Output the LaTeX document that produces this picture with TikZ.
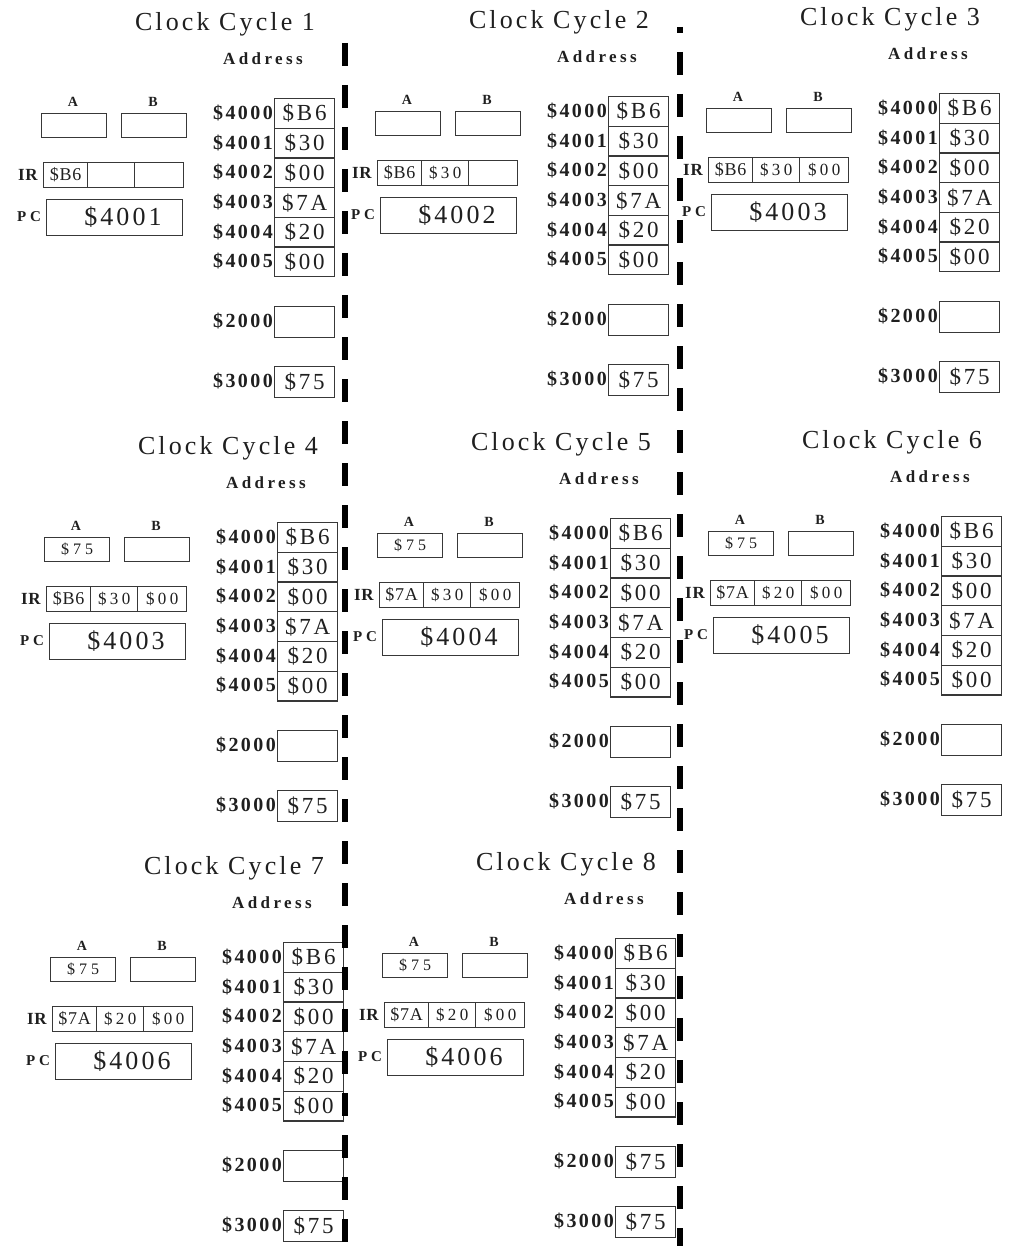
\documentclass[tikz,border=0pt]{standalone}
\usepackage{fontspec}
\setmainfont{Liberation Serif}
\newfontfamily\lsA[LetterSpace=12]{Liberation Serif}
\newfontfamily\lsB[LetterSpace=20]{Liberation Serif}
\newfontfamily\lsC[LetterSpace=25]{Liberation Serif}
\newfontfamily\lsD[LetterSpace=4]{Liberation Serif}
\definecolor{ink}{gray}{0.12}
\definecolor{rule}{gray}{0.22}
\tikzset{
  every node/.style={inner sep=0pt, text=ink},
  box/.style={draw=rule, line width=1.3pt, anchor=north west, inner sep=0pt},
  titletext/.style={font=\lsA\fontsize{26}{28}\selectfont},
  addrhead/.style={font=\lsB\bfseries\fontsize{17}{19}\selectfont},
  addrlabel/.style={anchor=east, font=\lsA\bfseries\fontsize{20}{22}\selectfont},
  memcell/.style={box, minimum width=60pt, minimum height=29.7pt, font=\lsA\fontsize{23}{25}\selectfont},
  reglabel/.style={font=\bfseries\fontsize{14}{16}\selectfont},
  regbox/.style={box, minimum width=65pt, minimum height=24pt, font=\lsC\fontsize{16}{18}\selectfont},
  irlabel/.style={font=\lsD\bfseries\fontsize{17}{19}\selectfont},
  pclabel/.style={font=\lsC\bfseries\fontsize{15}{17}\selectfont},
  ircell/.style={box, minimum height=25pt, font=\lsB\fontsize{17}{19}\selectfont},
  irfirst/.style={ircell, font=\lsD\fontsize{18}{20}\selectfont},
  pcbox/.style={box, minimum width=136pt, minimum height=36pt},
  pcval/.style={font=\lsA\fontsize{26}{28}\selectfont},
  divider/.style={draw=black, line width=6pt, dash pattern=on 23pt off 19pt}
}
\newcommand\cyclepanel[9]{%
  \begin{scope}[shift={(#1,#2)}]
    \node[titletext] (p#3-title) at (-49,-74) {Clock Cycle #3};
    \node[addrhead] (p#3-addr) at (-11,-39) {Address};
    \node[memcell] (p#3-m0) at (0,0) {\$B6};
    \node[memcell] (p#3-m1) at (0,29.7) {\$30};
    \node[memcell] (p#3-m2) at (0,59.4) {\$00};
    \node[memcell] (p#3-m3) at (0,89.1) {\$7A};
    \node[memcell] (p#3-m4) at (0,118.8) {\$20};
    \node[memcell] (p#3-m5) at (0,148.5) {\$00};
    \node[addrlabel] (p#3-l0) at (-1,14.85) {\$4000};
    \node[addrlabel] (p#3-l1) at (-1,44.55) {\$4001};
    \node[addrlabel] (p#3-l2) at (-1,74.25) {\$4002};
    \node[addrlabel] (p#3-l3) at (-1,103.95) {\$4003};
    \node[addrlabel] (p#3-l4) at (-1,133.65) {\$4004};
    \node[addrlabel] (p#3-l5) at (-1,163.35) {\$4005};
    \node[memcell, minimum height=31pt] (p#3-m2000) at (0,208) {#9};
    \node[addrlabel] (p#3-l2000) at (-1,223.5) {\$2000};
    \node[memcell, minimum height=31pt] (p#3-m3000) at (0,268) {\$75};
    \node[addrlabel] (p#3-l3000) at (-1,283.5) {\$3000};
    \node[reglabel] (p#3-Alab) at (-201,4) {A};
    \node[reglabel] (p#3-Blab) at (-121,4) {B};
    \node[regbox] (p#3-A) at (-233,15) {#4};
    \node[regbox] (p#3-B) at (-153,15) {};
    \node[irlabel] (p#3-IRlab) at (-246,77) {IR};
    \node[irfirst, minimum width=44pt] (p#3-ir1) at (-231,64) {#5};
    \node[ircell, minimum width=47pt] (p#3-ir2) at (-187,64) {#6};
    \node[ircell, minimum width=49pt] (p#3-ir3) at (-140,64) {#7};
    \node[pclabel] (p#3-PClab) at (-245,119) {PC};
    \node[pcbox] (p#3-PC) at (-228,101) {};
    \node[pcval] (p#3-PCv) at (-151,119) {#8};
  \end{scope}}
\begin{document}
\begin{tikzpicture}[x=1pt, y=-1pt]
  \useasboundingbox[fill=white] (0,0) rectangle (1009,1246);
  \cyclepanel{274}{98}{1}{}{\$B6}{}{}{\$4001}{}
  \cyclepanel{608}{96}{2}{}{\$B6}{\$30}{}{\$4002}{}
  \cyclepanel{939}{93}{3}{}{\$B6}{\$30}{\$00}{\$4003}{}
  \cyclepanel{277}{522}{4}{\$75}{\$B6}{\$30}{\$00}{\$4003}{}
  \cyclepanel{610}{518}{5}{\$75}{\$7A}{\$30}{\$00}{\$4004}{}
  \cyclepanel{941}{516}{6}{\$75}{\$7A}{\$20}{\$00}{\$4005}{}
  \cyclepanel{283}{942}{7}{\$75}{\$7A}{\$20}{\$00}{\$4006}{}
  \cyclepanel{615}{938}{8}{\$75}{\$7A}{\$20}{\$00}{\$4006}{\$75}
  \coordinate (d1top) at (345,43);
  \coordinate (d1bot) at (345,1242);
  \coordinate (d2top) at (680,27);
  \coordinate (d2bot) at (680,1246);
  \draw[divider] (d1top) -- (d1bot);
  \draw[divider, dash phase=17pt] (d2top) -- (d2bot);
\end{tikzpicture}
\end{document}
